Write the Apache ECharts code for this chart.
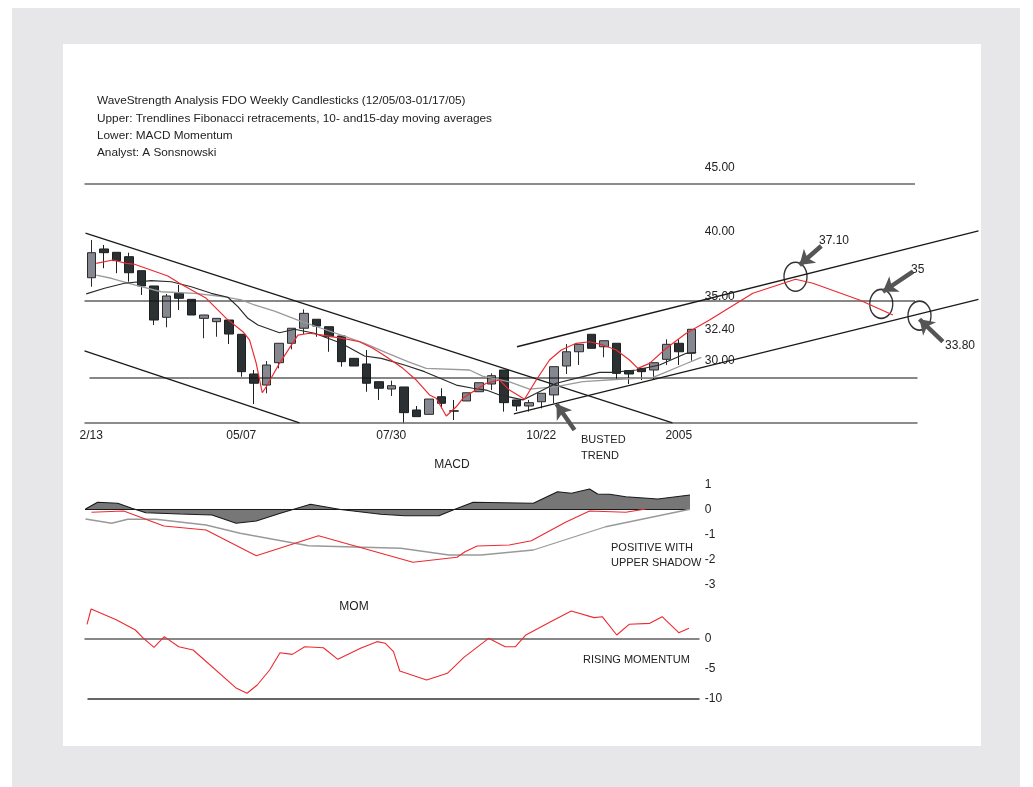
<!DOCTYPE html>
<html>
<head>
<meta charset="utf-8">
<script src="https://cdn.jsdelivr.net/npm/echarts@6/dist/echarts.min.js"></script>
<style>
  html, body { margin: 0; padding: 0; background: #fff; }
  #bg { position: absolute; left: 12px; top: 8px; width: 1008px; height: 779px; background: #e7e7e9; }
  #panel { position: absolute; left: 63px; top: 44px; width: 918px; height: 702px; background: #fff; }
  #grafico { position: absolute; left: 0; top: 0; width: 1033px; height: 787px; }
</style>
</head>
<body>
<div id="bg"></div>
<div id="panel"></div>
<div id="grafico"></div>
<script>
// weekly candles [open, close, low, high], week index = position
var candles = [
    [36.44, 38.39, 35.74, 39.38], [38.68, 38.39, 37.18, 38.99], [38.42, 37.77, 36.79, 38.42],
    [38.08, 36.83, 36.13, 38.39], [36.99, 35.80, 35.10, 36.99], [35.80, 33.15, 32.76, 35.80],
    [33.36, 35.02, 32.58, 35.18], [35.23, 34.84, 33.93, 35.88], [34.76, 33.54, 33.54, 34.76],
    [33.28, 33.54, 31.73, 33.54], [33.02, 33.28, 31.85, 33.28], [33.15, 32.06, 31.28, 33.15],
    [32.04, 29.13, 28.74, 32.04], [28.95, 28.23, 26.61, 29.26], [28.09, 29.65, 27.45, 29.96],
    [29.83, 31.34, 29.39, 31.34], [31.34, 32.51, 30.87, 32.51], [32.51, 33.67, 32.06, 33.98],
    [33.21, 32.68, 31.85, 33.21], [32.63, 31.85, 30.68, 32.63], [31.91, 29.91, 29.52, 31.91],
    [30.17, 29.57, 29.57, 30.17], [29.73, 28.23, 27.57, 30.82], [28.35, 27.84, 26.93, 28.35],
    [27.78, 28.04, 27.24, 28.43], [27.94, 25.94, 25.11, 27.94], [26.15, 25.63, 25.63, 26.46],
    [25.81, 27.00, 25.81, 27.00], [27.18, 26.67, 26.28, 27.84], [26.08, 26.06, 25.37, 26.93],
    [26.85, 27.49, 26.85, 27.49], [27.57, 28.27, 27.57, 28.27], [28.17, 28.82, 27.70, 29.00],
    [29.26, 26.72, 26.02, 29.26], [26.93, 26.46, 26.07, 26.93], [26.46, 26.72, 26.02, 26.93],
    [26.79, 27.45, 26.28, 27.45], [27.32, 29.52, 26.67, 29.52], [29.57, 30.68, 28.95, 31.28],
    [30.68, 31.26, 29.65, 31.26], [32.04, 30.95, 30.95, 32.04], [31.07, 31.54, 30.25, 31.54],
    [31.34, 29.00, 28.54, 31.34], [29.21, 28.95, 28.17, 29.21], [29.39, 29.13, 28.48, 29.39],
    [29.26, 29.83, 28.54, 29.83], [30.09, 31.26, 29.65, 31.65], [31.34, 30.68, 29.65, 31.65],
    [30.56, 32.43, 29.98, 32.43]
];

var xLabelWeeks = [0, 12, 24, 36, 47];
var xLabels = ['2/13', '05/07', '07/30', '10/22', '2005'];
var priceTicks = [45, 40, 35, 32.4, 30];
var macdTicks = [1, 0, -1, -2, -3];
var momTicks = [0, -5, -10];

// moving averages (red fast MA runs on into the projection)
var redMaWeek = [0.4, 1.73, 2.8, 3.46, 6.13, 7.06, 9.2, 10.8, 12.13, 12.66, 13.2, 13.68, 14.0, 15.06, 16.53, 17.46, 18.53, 20.53, 21.46, 22.53, 23.6, 24.93, 26.0, 27.06, 27.6, 28.4, 29.2, 29.73, 30.53, 31.6, 32.66, 33.46, 34.66, 35.6, 36.66, 37.6, 38.8, 39.86, 40.93, 42.0, 43.06, 43.73, 44.66, 46.0, 47.6, 49.46, 52.93, 56.34, 57.73, 61.46, 64.13];
var redMa = [37.56, 37.82, 37.56, 37.49, 36.58, 36.01, 34.84, 33.28, 32.24, 31.60, 29.78, 27.49, 27.96, 29.78, 31.98, 32.12, 31.98, 31.65, 31.46, 30.95, 30.30, 29.39, 28.48, 27.32, 27.06, 25.68, 26.40, 27.06, 27.57, 28.23, 28.48, 27.70, 26.98, 28.48, 30.04, 30.82, 31.34, 31.46, 31.21, 30.82, 30.04, 29.39, 29.78, 30.95, 32.12, 33.15, 35.23, 36.32, 36.01, 34.71, 33.54];
var blackMaWeek = [-0.4, 1.06, 2.66, 4.8, 6.4, 8.0, 9.6, 10.93, 11.73, 12.53, 13.33, 15.06, 16.26, 17.86, 20.0, 21.86, 23.2, 25.06, 26.66, 29.2, 30.53, 31.6, 32.66, 34.53, 37.2, 39.33, 40.66, 41.73, 43.6, 45.46, 47.6, 48.4];
var blackMa = [35.18, 35.62, 36.01, 36.21, 36.13, 35.74, 35.23, 34.92, 34.19, 33.28, 32.76, 32.16, 32.43, 32.12, 31.34, 30.35, 30.17, 29.65, 29.13, 28.09, 27.84, 27.70, 27.32, 26.93, 28.23, 28.74, 29.08, 29.08, 29.26, 29.65, 30.56, 30.64];
var grayMaWeek = [0.4, 1.6, 3.46, 5.6, 8.26, 10.66, 12.0, 13.06, 14.66, 16.53, 18.4, 20.0, 21.86, 23.73, 25.33, 26.8, 30.26, 31.3, 33.46, 35.06, 37.2, 39.33, 42.26, 44.93, 45.73, 47.33, 48.8];
var grayMa = [36.65, 36.40, 35.88, 35.35, 35.23, 34.96, 34.71, 34.32, 33.85, 33.15, 32.51, 31.98, 31.34, 30.56, 29.91, 29.39, 29.26, 28.79, 28.33, 27.78, 27.96, 28.35, 28.54, 28.69, 29.00, 29.65, 30.25];

// trendlines and horizontal retracement levels
var trendDown1 = [[-0.46, 39.92], [46.5, 25.14]];
var trendDown2 = [[-0.54, 30.74], [16.66, 25.14]];
var channelTop = [[34.06, 31.07], [70.98, 40.08]];
var channelBottom = [[33.81, 25.84], [70.98, 34.76]];
var levelValues = [43.74, 34.63, 28.64, 25.14];
var levelStart = [-0.54, -0.54, -0.14, -0.54];
var levelEnd = [65.9, 65.9, 66.1, 66.1];

// projection targets: circles and arrows
var circleSpots = [[56.34, 36.52], [63.2, 34.40], [66.26, 33.49]];
var arrowTails = [[38.66, 24.59], [58.4, 38.91], [65.73, 36.91], [68.13, 31.46]];
var arrowHeads = [[37.22, 26.61], [56.66, 37.43], [63.33, 35.35], [66.26, 33.21]];

// MACD
var macdHistWeek = [-0.46, 0.51, 2.12, 3.24, 4.37, 7.1, 9.66, 11.59, 13.2, 15.13, 17.54, 19.94, 23.16, 25.09, 27.82, 28.94, 30.55, 35.37, 37.3, 38.42, 39.86, 40.51, 41.47, 42.76, 45.33, 47.9];
var macdHist = [0.02, 0.29, 0.25, 0.05, -0.13, -0.18, -0.22, -0.55, -0.46, -0.15, 0.21, 0, -0.19, -0.25, -0.25, -0.02, 0.29, 0.25, 0.71, 0.65, 0.82, 0.62, 0.61, 0.51, 0.42, 0.58];
var macdRedWeek = [0.02, 2.6, 5.81, 9.18, 13.2, 18.18, 25.73, 29.26, 29.9, 30.87, 33.44, 35.21, 37.94, 39.86, 42.76, 44.37];
var macdRed = [-0.11, -0.06, -0.66, -0.82, -1.85, -1.05, -2.11, -1.91, -1.69, -1.46, -1.42, -1.25, -0.51, -0.06, -0.11, 0.02];
var macdGrayWeek = [-0.46, 1.63, 2.92, 5.17, 9.18, 11.91, 17.38, 24.77, 28.62, 31.19, 35.37, 41.15, 47.9];
var macdGray = [-0.38, -0.55, -0.39, -0.39, -0.62, -0.95, -1.45, -1.55, -1.82, -1.82, -1.62, -0.69, 0.01];

// momentum
var momWeek = [-0.34, -0.01, 2.04, 3.53, 4.18, 5.02, 5.84, 7.0, 8.15, 11.62, 12.46, 13.28, 14.27, 15.1, 16.09, 17.08, 18.57, 19.73, 21.54, 22.86, 23.53, 24.18, 24.68, 26.83, 28.49, 29.81, 31.79, 33.11, 33.94, 34.77, 36.75, 38.4, 40.22, 40.88, 42.04, 43.03, 44.68, 45.67, 47.0, 47.82];
var mom = [2.45, 5.0, 3.17, 1.5, 0.1, -1.39, 0.39, -1.28, -1.83, -8.22, -9.05, -7.67, -5.17, -2.28, -2.56, -1.28, -1.45, -3.39, -1.56, -0.44, -0.72, -2.11, -5.33, -6.83, -5.72, -3.06, 0.11, -1.28, -1.28, 0.67, 2.89, 4.67, 3.56, 3.72, 0.67, 2.45, 2.61, 3.72, 1.05, 1.78];

var FONT = '"Liberation Sans", Arial, sans-serif';

function pares(xs, ys) {
    return xs.map(function (x, i) { return [x, ys[i]]; });
}

function linha(name, data, color, width, grid) {
    return {
        name: name, type: 'line', xAxisIndex: grid, yAxisIndex: grid,
        data: data, showSymbol: false, silent: true,
        lineStyle: { color: color, width: width }
    };
}

function eixoX(grid, comLabels) {
    return {
        type: 'value', gridIndex: grid, min: -0.5, max: 71,
        axisLine: { show: false }, axisTick: { show: false }, splitLine: { show: false },
        axisLabel: comLabels ? {
            customValues: xLabelWeeks, margin: -8, color: '#222', fontSize: 12, fontFamily: FONT,
            formatter: function (v) { return xLabels[xLabelWeeks.indexOf(v)]; }
        } : { show: false }
    };
}

function eixoY(grid, min, max, ticks, fmt) {
    return {
        type: 'value', gridIndex: grid, min: min, max: max, position: 'right', offset: -278,
        axisLine: { show: false }, axisTick: { show: false }, splitLine: { show: false },
        axisLabel: { customValues: ticks, margin: 4, color: '#222', fontSize: 12, fontFamily: FONT, formatter: fmt }
    };
}

var series_grafico = [];

// level lines
levelValues.forEach(function (v, i) {
    var cinza = (i === 0 || i === 3);
    series_grafico.push(linha('level' + i, [[levelStart[i], v], [levelEnd[i], v]], cinza ? '#666' : '#111', cinza ? 1.5 : 1.1, 0));
});
series_grafico.push(linha('down1', trendDown1, '#1a1a1a', 1.3, 0));
series_grafico.push(linha('down2', trendDown2, '#1a1a1a', 1.3, 0));
series_grafico.push(linha('chanTop', channelTop, '#1a1a1a', 1.3, 0));
series_grafico.push(linha('chanBottom', channelBottom, '#1a1a1a', 1.3, 0));
series_grafico.push(linha('gray MA', pares(grayMaWeek, grayMa), '#9a9a9a', 1.3, 0));
series_grafico.push(linha('black MA', pares(blackMaWeek, blackMa), '#2a2a2a', 1.2, 0));
series_grafico.push(linha('red MA', pares(redMaWeek, redMa), '#ec2a30', 1.2, 0));

series_grafico.push({
    name: 'FDO', type: 'candlestick', xAxisIndex: 0, yAxisIndex: 0,
    data: candles.map(function (c, i) { return [i, c[0], c[1], c[2], c[3]]; }),
    barWidth: 9, silent: true,
    itemStyle: { color: '#868891', color0: '#2b3132', borderColor: '#2b2b2b', borderColor0: '#1b1f20', borderWidth: 1 }
});

series_grafico.push({
    name: 'targets', type: 'scatter', xAxisIndex: 0, yAxisIndex: 0,
    data: circleSpots, symbol: 'circle', symbolSize: [23, 29], silent: true,
    itemStyle: { color: 'rgba(0,0,0,0)', borderColor: '#000', borderWidth: 1.5 },
    markLine: {
        silent: true, symbol: ['none', 'arrow'], symbolSize: 14, animation: false,
        label: { show: false },
        lineStyle: { color: '#555', width: 4.5, type: 'solid', opacity: 1 },
        data: arrowTails.map(function (t, i) { return [{ coord: t }, { coord: arrowHeads[i] }]; })
    }
});

// MACD
series_grafico.push({
    name: 'MACD hist', type: 'line', xAxisIndex: 1, yAxisIndex: 1,
    data: pares(macdHistWeek, macdHist), showSymbol: false, silent: true,
    lineStyle: { color: '#1a1a1a', width: 1.2 },
    areaStyle: { color: '#777', opacity: 1, origin: 0 }
});
series_grafico.push(linha('macd zero', [[-0.5, 0], [47.9, 0]], '#1a1a1a', 1.2, 1));
series_grafico.push(linha('macd gray', pares(macdGrayWeek, macdGray), '#999', 1.3, 1));
series_grafico.push(linha('macd red', pares(macdRedWeek, macdRed), '#ec2a30', 1.1, 1));

// MOM
series_grafico.push(linha('mom zero', [[-0.54, 0], [48.66, 0]], '#111', 1.2, 2));
series_grafico.push(linha('mom base', [[-0.3, -10], [48.66, -10]], '#666', 2.2, 2));
series_grafico.push(linha('mom', pares(momWeek, mom), '#ec2a30', 1.1, 2));

function texto(t, x, y, align, size) {
    return {
        type: 'text', x: x, y: y, silent: true,
        style: { text: t, fill: '#222', font: (size || 11) + 'px ' + FONT, align: align || 'left', verticalAlign: 'middle' }
    };
}

var option = {
    animation: false,
    textStyle: { fontFamily: FONT },
    grid: [
        { left: 85, width: 893.75, top: 154.9, height: 282.7 },
        { left: 85, width: 893.75, top: 472, height: 125 },
        { left: 85, width: 893.75, top: 603, height: 102 }
    ],
    xAxis: [eixoX(0, true), eixoX(1, false), eixoX(2, false)],
    yAxis: [
        eixoY(0, 24, 46, priceTicks, function (v) { return v.toFixed(2); }),
        eixoY(1, -3.5, 1.5, macdTicks, function (v) { return String(v); }),
        eixoY(2, -11, 6, momTicks, function (v) { return String(v); })
    ],
    graphic: [
        texto('WaveStrength Analysis FDO Weekly Candlesticks (12/05/03-01/17/05)', 97, 101, 'left', 11.8),
        texto('Upper: Trendlines Fibonacci retracements, 10- and15-day moving averages', 97, 119, 'left', 11.8),
        texto('Lower: MACD Momentum', 97, 136, 'left', 11.8),
        texto('Analyst: A Sonsnowski', 97, 153, 'left', 11.8),
        texto('MACD', 452, 465, 'center', 12),
        texto('MOM', 354, 607, 'center', 12),
        texto('POSITIVE WITH', 611, 548),
        texto('UPPER SHADOW', 611, 563),
        texto('RISING MOMENTUM', 583, 660),
        texto('BUSTED', 581, 440),
        texto('TREND', 581, 456),
        texto('37.10', 819, 241, 'left', 12),
        texto('35', 911, 270, 'left', 12),
        texto('33.80', 945, 346, 'left', 12)
    ],
    series: series_grafico
};

var myChart = echarts.init(document.getElementById('grafico'), null, { renderer: 'canvas' });
myChart.setOption(option);
</script>
</body>
</html>
